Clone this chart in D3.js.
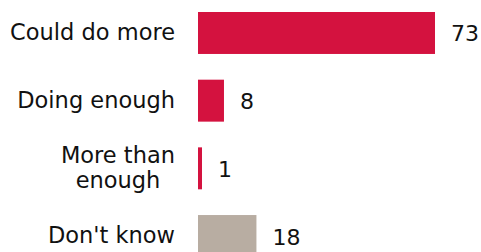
<!DOCTYPE html>
<html><head><meta charset="utf-8">
<script src="https://cdn.jsdelivr.net/npm/d3@7"></script>
<style>
html,body{margin:0;padding:0;background:#fff;}
text{font-family:"DejaVu Sans",sans-serif;fill:#111;}
</style></head>
<body><svg id="c" width="481" height="252"></svg>
<script>
const categories = ["Could do more", "Doing enough", "More than enough", "Don't know"];
const labelLines = [["Could do more"], ["Doing enough"], ["More than", "enough"], ["Don't know"]];
const values = [73, 8, 1, 18];
const colors = ["#D4123F", "#D4123F", "#D4123F", "#B8ADA2"];

const svg = d3.select("#c");
const x = d3.scaleLinear().domain([0, 73]).range([198, 435]);
const y = d3.scaleBand().domain(categories).range([12, 257]).paddingInner(0.38).paddingOuter(0);

const data = categories.map((c, i) => ({c, v: values[i], col: colors[i], lines: labelLines[i]}));

svg.selectAll("rect.bar").data(data).join("rect")
  .attr("class", "bar")
  .attr("x", x(0))
  .attr("y", d => y(d.c))
  .attr("width", d => Math.max(4, x(d.v) - x(0)))
  .attr("height", y.bandwidth())
  .attr("fill", d => d.col);

svg.selectAll("text.val").data(data).join("text")
  .attr("class", "val")
  .attr("x", d => x(0) + Math.max(4, x(d.v) - x(0)) + 16)
  .attr("y", d => y(d.c) + y.bandwidth() / 2 + 8.5)
  .attr("font-size", 22)
  .text(d => d.v);

const labelRight = 175;
data.forEach(d => {
  const cy = y(d.c) + y.bandwidth() / 2;
  const g = svg.append("g");
  const n = d.lines.length;
  const lh = 25;
  const ts = d.lines.map((l, i) => g.append("text")
    .attr("font-size", 22.5)
    .attr("y", cy + 7 + (i - (n - 1) / 2) * lh)
    .text(l));
  const widths = ts.map(t => t.node().getComputedTextLength());
  const maxW = d3.max(widths);
  ts.forEach(t => t.attr("text-anchor", "middle").attr("x", labelRight - maxW / 2));
});
</script></body></html>
